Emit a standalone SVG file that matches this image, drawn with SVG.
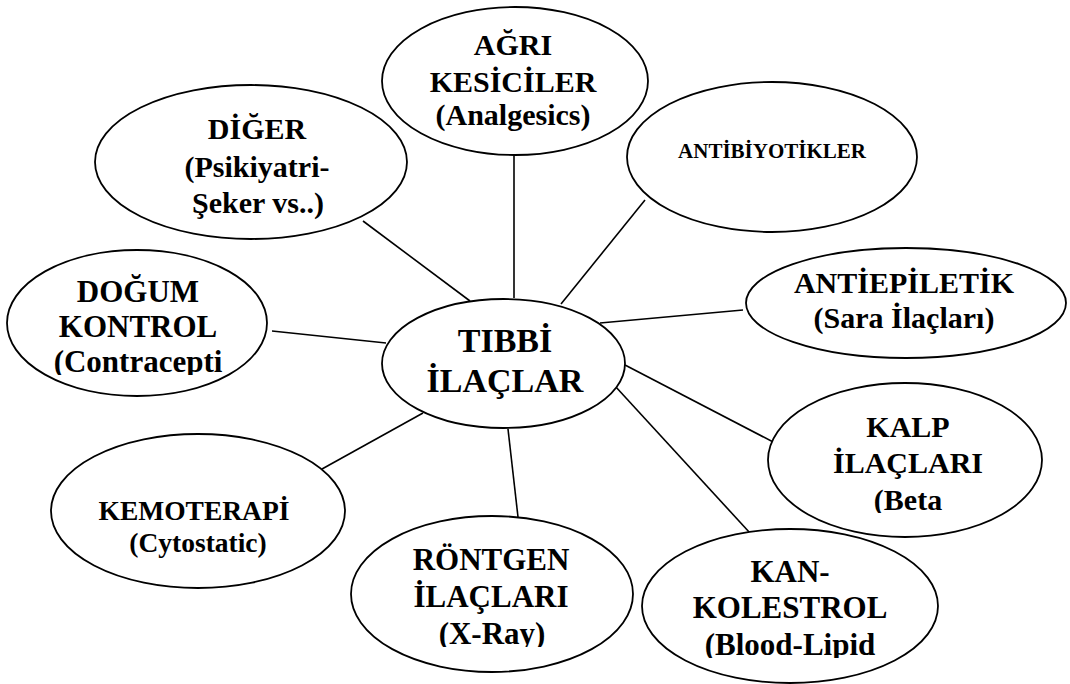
<svg xmlns="http://www.w3.org/2000/svg" width="1070" height="684" viewBox="0 0 1070 684">
<style>
.e{fill:#fff;stroke:#000;stroke-width:1.8}
.c line{stroke:#000;stroke-width:1.6}
.t{font-family:'Liberation Serif','Times New Roman',serif;font-weight:700;fill:#000;text-anchor:middle}
</style>
<defs>
<clipPath id="cpDogum"><rect x="0" y="240" width="280" height="135"/></clipPath>
<clipPath id="cpRontgen"><rect x="340" y="510" width="300" height="137"/></clipPath>
<clipPath id="cpKalp"><rect x="760" y="380" width="290" height="133"/></clipPath>
<clipPath id="cpKan"><rect x="640" y="525" width="310" height="133"/></clipPath>
</defs>
<rect width="1070" height="684" fill="#fff"/>
<g id="connectors" class="c">
<line x1="514" y1="155" x2="514" y2="298"/>
<line x1="363" y1="221" x2="470" y2="301"/>
<line x1="645" y1="200" x2="561" y2="304"/>
<line x1="272" y1="331" x2="386" y2="343"/>
<line x1="600" y1="323" x2="743" y2="310"/>
<line x1="625" y1="365" x2="777" y2="444"/>
<line x1="615" y1="386" x2="750" y2="533"/>
<line x1="508" y1="429" x2="518" y2="517"/>
<line x1="423" y1="413" x2="322" y2="469"/>
</g>
<g id="agri">
<ellipse class="e" cx="515" cy="81" rx="133" ry="74"/>
<text class="t" font-size="30"><tspan x="513" y="55">AĞRI</tspan><tspan x="513" y="92">KESİCİLER</tspan><tspan x="513" y="125">(Analgesics)</tspan></text>
</g>
<g id="diger">
<ellipse class="e" cx="251" cy="162" rx="156" ry="77"/>
<text class="t" font-size="30"><tspan x="257" y="139">DİĞER</tspan><tspan x="257" y="177">(Psikiyatri-</tspan><tspan x="258" y="213">Şeker vs..)</tspan></text>
</g>
<g id="antibiyotikler">
<ellipse class="e" cx="772" cy="157" rx="145" ry="75"/>
<text class="t" font-size="21" x="772" y="158">ANTİBİYOTİKLER</text>
</g>
<g id="dogum">
<ellipse class="e" cx="137" cy="323" rx="130" ry="73"/>
<text class="t" font-size="31" clip-path="url(#cpDogum)"><tspan x="138" y="302">DOĞUM</tspan><tspan x="138" y="337">KONTROL</tspan><tspan x="138" y="372">(Contracepti</tspan></text>
</g>
<g id="tibbi">
<ellipse class="e" cx="503.5" cy="363.5" rx="121.5" ry="64.5"/>
<text class="t" font-size="34"><tspan x="505" y="352">TIBBİ</tspan><tspan x="505" y="392">İLAÇLAR</tspan></text>
</g>
<g id="antiepiletik">
<ellipse class="e" cx="906" cy="303" rx="160" ry="55"/>
<text class="t" font-size="30"><tspan x="904" y="293">ANTİEPİLETİK</tspan><tspan x="904" y="328">(Sara İlaçları)</tspan></text>
</g>
<g id="kalp">
<ellipse class="e" cx="905" cy="460" rx="137" ry="77"/>
<text class="t" font-size="30" clip-path="url(#cpKalp)"><tspan x="908" y="437">KALP</tspan><tspan x="908" y="473">İLAÇLARI</tspan><tspan x="908" y="510">(Beta</tspan></text>
</g>
<g id="kemoterapi">
<ellipse class="e" cx="198" cy="511" rx="147" ry="77"/>
<text class="t" font-size="27.5"><tspan x="194" y="520">KEMOTERAPİ</tspan><tspan x="198" y="552">(Cytostatic)</tspan></text>
</g>
<g id="rontgen">
<ellipse class="e" cx="492" cy="594" rx="141" ry="78"/>
<text class="t" font-size="31" clip-path="url(#cpRontgen)"><tspan x="491" y="570">RÖNTGEN</tspan><tspan x="491" y="607">İLAÇLARI</tspan><tspan x="492" y="644">(X-Ray)</tspan></text>
</g>
<g id="kan">
<ellipse class="e" cx="790" cy="606" rx="148" ry="77"/>
<text class="t" font-size="31" clip-path="url(#cpKan)"><tspan x="790" y="582">KAN-</tspan><tspan x="790" y="618">KOLESTROL</tspan><tspan x="790" y="655">(Blood-Lipid</tspan></text>
</g>
</svg>
